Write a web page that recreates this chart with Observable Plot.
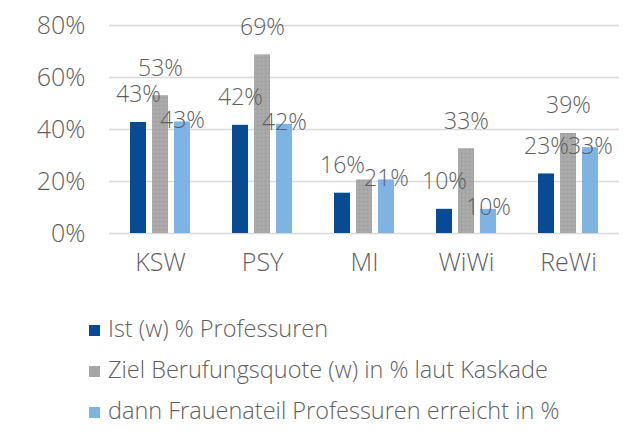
<!DOCTYPE html>
<html>
<head>
<meta charset="utf-8">
<script src="https://cdn.jsdelivr.net/npm/d3@7"></script>
<script src="https://cdn.jsdelivr.net/npm/@observablehq/plot@0.6"></script>
<style>
  html, body { margin: 0; padding: 0; background: #fff; }
  body { width: 627px; height: 432px; position: relative; overflow: hidden;
         font-family: "Open Sans", sans-serif; font-weight: 300; color: #5f5f5f; }
  #legend { position: absolute; left: 89px; top: 308px; font-size: 23.5px; line-height: 41px; }
  #legend .row { white-space: nowrap; display: flex; align-items: center; height: 41px; }
  #legend .sw { width: 11px; height: 11px; margin-right: 8px; margin-top: 3px; flex: none; }
</style>
</head>
<body>
<div id="chart"></div>
<div id="legend"></div>
<script>
const categories = ["KSW", "PSY", "MI", "WiWi", "ReWi"];
const seriesNames = [
  "Ist (w) % Professuren",
  "Ziel Berufungsquote (w) in % laut Kaskade",
  "dann Frauenateil Professuren erreicht in %"
];
const seriesColors = ["#064b93", "#a6a6a6", "#7eb3e3"];
const istValues   = [42.7, 41.6, 15.5, 9.3, 22.9];
const zielValues  = [53, 68.7, 20.6, 32.6, 38.5];
const dannValues  = [42.9, 42, 20.6, 9.3, 33];
const istLabels   = ["43%", "42%", "16%", "10%", "23%"];
const zielLabels  = ["53%", "69%", "", "33%", "39%"];
const dannLabels  = ["43%", "42%", "21%", "10%", "33%"];
const yTicks = [0, 20, 40, 60, 80];

const valueArrays = [istValues, zielValues, dannValues];
const labelArrays = [istLabels, zielLabels, dannLabels];
const data = [];
categories.forEach((c, i) => {
  seriesNames.forEach((s, j) => {
    data.push({category: c, series: s, sIndex: j, value: valueArrays[j][i], label: labelArrays[j][i]});
  });
});
const labelOffsets = [-20, -20, 6];

const fontFamily = '"Open Sans", sans-serif';
const textColor = "#5f5f5f";

const chart = Plot.plot({
  width: 627,
  height: 300,
  marginLeft: 107,
  marginRight: 6,
  marginTop: 25,
  marginBottom: 67,
  style: {fontFamily, fontWeight: 300, color: textColor, background: "#fff", overflow: "visible"},
  fx: {domain: categories, padding: 0, label: null, axis: null},
  x: {domain: seriesNames, paddingInner: 0.26, paddingOuter: 0.87, axis: null},
  y: {domain: [0, 80], ticks: yTicks, label: null, axis: null},
  color: {domain: seriesNames, range: seriesColors},
  marks: [
    Plot.gridY(yTicks, {stroke: "#d9d9d9", strokeOpacity: 1, strokeWidth: 1.6}),
    Plot.barY(data, {fx: "category", x: "series", y: "value",
      fill: d => d.sIndex === 1 ? "url(#dots)" : seriesColors[d.sIndex]}),
    Plot.text(data.filter(d => d.sIndex === 0), {fx: "category", x: "series", y: "value", text: "label",
      dy: labelOffsets[0], lineAnchor: "bottom", fontSize: 23, fill: textColor}),
    Plot.text(data.filter(d => d.sIndex === 1), {fx: "category", x: "series", y: "value", text: "label",
      dy: labelOffsets[1], lineAnchor: "bottom", fontSize: 23, fill: textColor}),
    Plot.text(data.filter(d => d.sIndex === 2), {fx: "category", x: "series", y: "value", text: "label",
      dy: labelOffsets[2], lineAnchor: "bottom", fontSize: 23, fill: textColor}),
    Plot.axisY(yTicks, {tickSize: 0, tickPadding: 24, tickFormat: d => d + "%", fontSize: 25, fill: textColor}),
    Plot.axisFx({anchor: "bottom", tickSize: 0, tickPadding: 20, fontSize: 25, fill: textColor, label: null})
  ]
});

// dotted texture for the grey bars
const ns = "http://www.w3.org/2000/svg";
const defs = document.createElementNS(ns, "defs");
defs.innerHTML = `<pattern id="dots" width="4" height="4" patternUnits="userSpaceOnUse">
  <rect width="4" height="4" fill="#a8a8a8"></rect>
  <rect x="1" y="1" width="1" height="1" fill="#979797"></rect>
  <rect x="3" y="3" width="1" height="1" fill="#b2b2b2"></rect>
</pattern>`;
chart.insertBefore(defs, chart.firstChild);
document.getElementById("chart").appendChild(chart);

const legend = document.getElementById("legend");
seriesNames.forEach((s, j) => {
  const row = document.createElement("div");
  row.className = "row";
  const sw = document.createElement("span");
  sw.className = "sw";
  sw.style.background = seriesColors[j];
  const t = document.createElement("span");
  t.textContent = s;
  row.appendChild(sw);
  row.appendChild(t);
  legend.appendChild(row);
});
</script>
</body>
</html>
